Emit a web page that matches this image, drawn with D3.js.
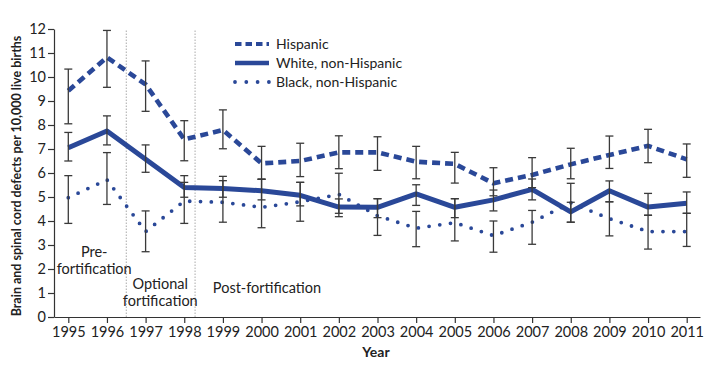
<!DOCTYPE html>
<html><head><meta charset="utf-8">
<script src="https://cdn.jsdelivr.net/npm/d3@7"></script>
<style>
body{margin:0;background:#fff;}
text{font-family:Lato,"Open Sans",sans-serif;fill:#222;}
</style></head>
<body><svg id="c" width="720" height="368"></svg>
<script>
const years = [1995,1996,1997,1998,1999,2000,2001,2002,2003,2004,2005,2006,2007,2008,2009,2010,2011];
const hispanic   = [9.43,10.82,9.69,7.40,7.79,6.40,6.50,6.86,6.86,6.47,6.38,5.57,5.92,6.36,6.75,7.13,6.57];
const hispanicLo = [8.05,9.57,8.57,6.51,7.01,5.74,5.85,6.18,6.11,5.76,5.58,5.05,5.39,5.76,6.19,6.43,5.82];
const hispanicHi = [10.33,11.94,10.67,8.18,8.63,7.11,7.24,7.55,7.51,7.11,6.86,6.22,6.64,7.03,7.54,7.82,7.21];
const white   = [7.05,7.75,6.57,5.40,5.35,5.26,5.07,4.58,4.57,5.13,4.57,4.88,5.32,4.38,5.26,4.58,4.74];
const whiteLo = [6.50,7.17,6.03,4.99,4.99,4.88,4.63,4.32,4.14,4.65,4.14,4.42,4.88,3.95,4.80,4.24,4.32];
const whiteHi = [7.69,8.38,7.17,5.89,5.68,5.74,5.61,4.92,4.93,5.51,4.93,5.29,5.75,4.78,5.67,5.15,5.21];
const black   = [4.97,5.72,3.56,4.83,4.78,4.57,4.80,5.11,4.22,3.70,3.93,3.39,3.95,4.76,4.10,3.56,3.56];
const blackLo = [3.90,4.69,2.72,3.90,3.95,3.72,3.99,4.18,3.40,2.93,3.17,2.70,3.03,3.95,3.38,2.83,2.94];
const blackHi = [5.89,6.85,4.42,5.61,5.86,5.74,5.61,5.99,4.93,4.40,4.93,4.00,4.44,5.57,4.80,4.24,4.32];
const yTicks = [0,1,2,3,4,5,6,7,8,9,10,11,12];
const seriesNames = ["Hispanic","White, non-Hispanic","Black, non-Hispanic"];
const periodBreaks = [1996.5, 1998.28];
const periodLabels = [
  {lines:["Pre-","fortification"], x:1995.67, y:2.5},
  {lines:["Optional","fortification"], x:1997.38, y:1.17},
  {lines:["Post-fortification"], x:1998.74, y:1.0}
];

const svg = d3.select("#c");
const blue = "#2a4898";
const x = d3.scaleLinear().domain([1994.63, 2011.344]).range([54, 700]);
const y = d3.scaleLinear().domain([0, 12]).range([317, 29]);

// axes
const xa = svg.append("g").attr("transform","translate(0,317)")
  .call(d3.axisBottom(x).tickValues(years).tickFormat(d3.format("d")).tickSize(6).tickSizeOuter(0).tickPadding(4));
const ya = svg.append("g").attr("transform","translate(54,0)")
  .call(d3.axisLeft(y).tickValues(yTicks).tickSize(6).tickSizeOuter(0).tickPadding(2));
[xa, ya].forEach(a => {
  a.selectAll("path,line").attr("stroke","#333").attr("stroke-width",1.2);
  a.selectAll("text").attr("font-size","14.5px").attr("fill","#222").attr("font-family","Lato");
});

// period separators
svg.selectAll(".sep").data(periodBreaks).enter().append("line")
  .attr("x1",d=>x(d)).attr("x2",d=>x(d)).attr("y1",y(0)).attr("y2",y(12))
  .attr("stroke","#aaa").attr("stroke-width",1).attr("stroke-dasharray","1.5 1.5");

// period labels
periodLabels.forEach(p => {
  const t = svg.append("text").attr("font-size","14.5px")
    .attr("text-anchor", p.lines.length>1 ? "middle" : "start")
    .attr("x", x(p.x)).attr("y", y(p.y));
  p.lines.forEach((l,i)=> t.append("tspan").attr("x", x(p.x)).attr("dy", i===0?0:17).text(l));
});

// lines
const line = d3.line().x((d,i)=>x(years[i])).y(d=>y(d));
svg.append("path").datum(black).attr("d",line).attr("fill","none").attr("stroke",blue)
  .attr("stroke-width",3.8).attr("stroke-linecap","round").attr("stroke-dasharray","0 10.8");
svg.append("path").datum(hispanic).attr("d",line).attr("fill","none").attr("stroke",blue)
  .attr("stroke-width",4.6).attr("stroke-dasharray","8 5");
svg.append("path").datum(white).attr("d",line).attr("fill","none").attr("stroke",blue)
  .attr("stroke-width",5).attr("stroke-linejoin","round");

// error bars
const errs = [[hispanicLo,hispanicHi],[whiteLo,whiteHi],[blackLo,blackHi]];
const eg = svg.append("g").attr("stroke","#3a3a3a").attr("stroke-width",1.3);
errs.forEach(([lo,hi]) => {
  years.forEach((yr,i) => {
    const cx = x(yr);
    eg.append("line").attr("x1",cx).attr("x2",cx).attr("y1",y(lo[i])).attr("y2",y(hi[i]));
    eg.append("line").attr("x1",cx-4).attr("x2",cx+4).attr("y1",y(lo[i])).attr("y2",y(lo[i]));
    eg.append("line").attr("x1",cx-4).attr("x2",cx+4).attr("y1",y(hi[i])).attr("y2",y(hi[i]));
  });
});

// legend
const lg = svg.append("g");
const legY = [44, 63, 82];
const legStyles = [
  {w:4.2, dash:"6.5 4", cap:"butt"},
  {w:4.6, dash:null, cap:"butt"},
  {w:3.8, dash:"0 11.3", cap:"round"}
];
seriesNames.forEach((n,i)=>{
  const l = lg.append("line").attr("x1",235).attr("x2",269).attr("y1",legY[i]).attr("y2",legY[i])
    .attr("stroke",blue).attr("stroke-width",legStyles[i].w).attr("stroke-linecap",legStyles[i].cap);
  if (legStyles[i].dash) l.attr("stroke-dasharray",legStyles[i].dash);
  lg.append("text").attr("x",276).attr("y",legY[i]).attr("dy","0.35em").attr("font-size","14px").text(n);
});

// axis titles
svg.append("text").attr("x",376).attr("y",357).attr("text-anchor","middle")
  .attr("font-size","14px").attr("font-weight","bold").text("Year");
svg.append("text").attr("transform","translate(21,176) rotate(-90)").attr("text-anchor","middle")
  .attr("font-size","12.5px").attr("font-weight","bold")
  .text("Brain and spinal cord defects per 10,000 live births");
</script></body></html>
